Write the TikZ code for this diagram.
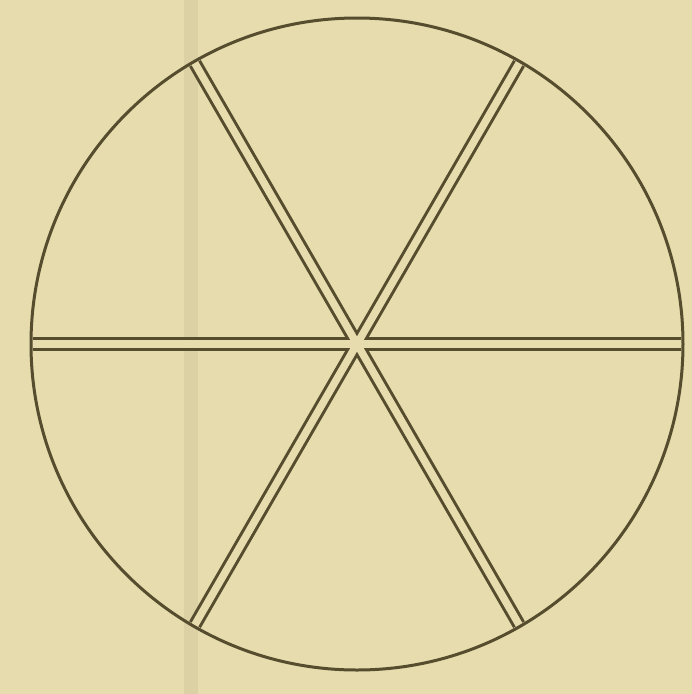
\documentclass[tikz,border=0pt]{standalone}
\usetikzlibrary{calc}
\definecolor{paper}{RGB}{231,220,173}
\definecolor{ink}{RGB}{86,76,46}
\begin{document}
\begin{tikzpicture}[x=0.02cm, y=-0.02cm,
  rim/.style={draw=ink, line width=0.06cm},
  spokeout/.style={draw=ink, line width=0.27cm},
  spokein/.style={draw=paper, line width=0.15cm}
]
% paper and its fold
\fill[paper] (0,0) rectangle (692,694);
\fill[ink, opacity=0.07] (184,0) rectangle (198,694);
\coordinate (c) at (357,344);
% three double diameters
\foreach \a in {0,60,120}
  \draw[spokeout] ($(c)+(\a:324)$) -- ($(c)+(\a+180:324)$);
\foreach \a in {0,60,120}
  \draw[spokein] ($(c)+(\a:326)$) -- ($(c)+(\a+180:326)$);
% the rim
\draw[rim] (c) circle[radius=326];
\end{tikzpicture}
\end{document}
